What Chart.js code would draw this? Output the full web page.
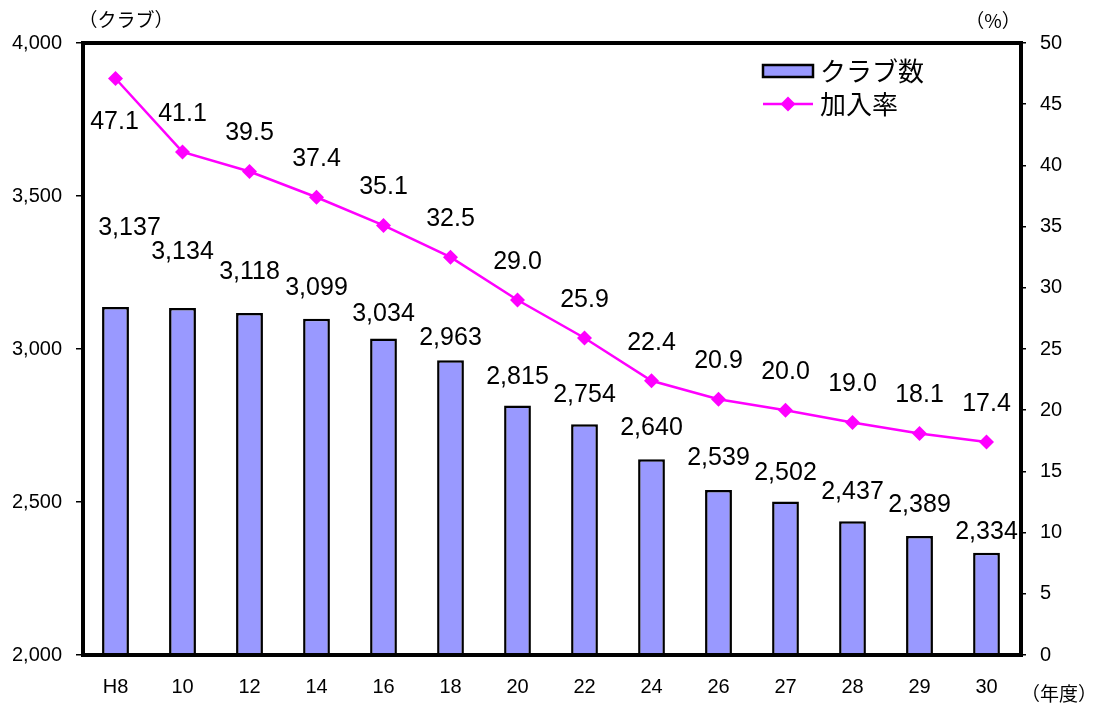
<!DOCTYPE html>
<html>
<head>
<meta charset="utf-8">
<script src="https://cdn.jsdelivr.net/npm/chart.js@4.4.1/dist/chart.umd.min.js"></script>
<style>
  html, body { margin: 0; padding: 0; background: #fff; }
  #wrap { width: 1097px; height: 710px; }
</style>
</head>
<body>
<div id="wrap"><canvas id="chart"></canvas></div>
<script>
// data
const years = ['H8', '10', '12', '14', '16', '18', '20', '22', '24', '26', '27', '28', '29', '30'];
const clubCounts = [3137, 3134, 3118, 3099, 3034, 2963, 2815, 2754, 2640, 2539, 2502, 2437, 2389, 2334];
const joinRates = [47.1, 41.1, 39.5, 37.4, 35.1, 32.5, 29.0, 25.9, 22.4, 20.9, 20.0, 19.0, 18.1, 17.4];
const leftTicks = [2000, 2500, 3000, 3500, 4000];
const rightTicks = [0, 5, 10, 15, 20, 25, 30, 35, 40, 45, 50];

// label placement (px above the bar top), the first ones are pushed up like in the original
const barLabelLift = [79, 56, 41, 31, 24, 22, 29, 29, 31, 32, 28, 29, 31, 21];

const BAR_COLOR = '#9999FF';
const LINE_COLOR = '#FF00FF';
const NUM_FONT = '"Liberation Sans", Arial, sans-serif';
const JP_FONT = '"Noto Sans CJK JP", sans-serif';

function formatNumber(num) {
  return new Intl.NumberFormat('en-US').format(num);
}

/**
 * Frame, value labels, legend and axis titles
 */
const decorPlugin = {
  id: 'decor',
  afterDatasetsDraw(chart) {
    const ctx = chart.ctx;
    const area = chart.chartArea;
    ctx.save();

    // thick frame round the plot area
    ctx.strokeStyle = '#000';
    ctx.lineWidth = 4;
    ctx.strokeRect(area.left + 1, area.top, area.right - area.left, area.bottom - area.top);

    // value labels
    ctx.fillStyle = '#000';
    ctx.font = '25px ' + NUM_FONT;
    ctx.textAlign = 'center';
    ctx.textBaseline = 'middle';
    chart.getDatasetMeta(1).data.forEach((bar, i) => {
      const dx = i === 0 ? 14 : 0;
      ctx.fillText(formatNumber(clubCounts[i]), bar.x + dx, bar.y - barLabelLift[i]);
    });
    chart.getDatasetMeta(0).data.forEach((pt, i) => {
      const dy = i === 0 ? 44 : -38;
      ctx.fillText(joinRates[i].toFixed(1), pt.x - (i === 0 ? 1 : 0), pt.y + dy);
    });

    // legend
    ctx.fillStyle = BAR_COLOR;
    ctx.fillRect(763, 65, 50, 12);
    ctx.lineWidth = 2.5;
    ctx.strokeStyle = '#000';
    ctx.strokeRect(763, 65, 50, 12);

    ctx.strokeStyle = LINE_COLOR;
    ctx.lineWidth = 2.5;
    ctx.beginPath();
    ctx.moveTo(763, 104);
    ctx.lineTo(813, 104);
    ctx.stroke();
    ctx.fillStyle = LINE_COLOR;
    ctx.beginPath();
    ctx.moveTo(788, 96.5);
    ctx.lineTo(795.5, 104);
    ctx.lineTo(788, 111.5);
    ctx.lineTo(780.5, 104);
    ctx.closePath();
    ctx.fill();

    ctx.fillStyle = '#000';
    ctx.font = '26px ' + JP_FONT;
    ctx.textAlign = 'left';
    ctx.fillText('クラブ数', 820, 71);
    ctx.fillText('加入率', 820, 104);

    // axis titles
    ctx.font = '19px ' + JP_FONT;
    ctx.textAlign = 'center';
    ctx.fillText('（クラブ）', 126, 20);
    ctx.fillText('（%）', 993, 21);
    ctx.textAlign = 'right';
    ctx.fillText('（年度）', 1097, 694);

    ctx.restore();
  },
};

const ctx = document.getElementById('chart');

new Chart(ctx, {
  data: {
    labels: years,
    datasets: [
      {
        type: 'line',
        label: '加入率',
        data: joinRates,
        yAxisID: 'y1',
        order: 0,
        borderColor: LINE_COLOR,
        borderWidth: 2.5,
        backgroundColor: LINE_COLOR,
        pointStyle: 'rectRot',
        pointRadius: 7.5,
        pointBorderWidth: 0,
        pointBackgroundColor: LINE_COLOR,
        tension: 0,
      },
      {
        type: 'bar',
        label: 'クラブ数',
        data: clubCounts,
        yAxisID: 'y',
        order: 1,
        backgroundColor: BAR_COLOR,
        borderColor: '#000',
        borderWidth: 2.5,
        borderSkipped: false,
        categoryPercentage: 1,
        barPercentage: 0.4,
      },
    ],
  },
  options: {
    responsive: true,
    maintainAspectRatio: false,
    animation: false,
    events: [],
    layout: { padding: { top: 43, left: 0, right: 0, bottom: 0 } },
    plugins: {
      legend: { display: false },
      tooltip: { enabled: false },
      title: { display: false },
    },
    scales: {
      x: {
        grid: { display: false },
        border: { display: false },
        ticks: {
          color: '#000',
          font: { family: NUM_FONT, size: 20 },
          padding: 12,
          maxRotation: 0,
          autoSkip: false,
        },
        afterFit: (scale) => { scale.height = 55; },
      },
      y: {
        position: 'left',
        min: 2000,
        max: 4000,
        afterBuildTicks: (scale) => { scale.ticks = leftTicks.map(v => ({ value: v })); },
        grid: { display: true, drawOnChartArea: false, drawTicks: true, tickLength: 6, color: '#000', lineWidth: 1.5 },
        border: { display: false },
        ticks: {
          color: '#000',
          font: { family: NUM_FONT, size: 20 },
          padding: 14,
          callback: (value) => formatNumber(value),
        },
        afterFit: (scale) => { scale.width = 82; },
      },
      y1: {
        position: 'right',
        min: 0,
        max: 50,
        afterBuildTicks: (scale) => { scale.ticks = rightTicks.map(v => ({ value: v })); },
        grid: { display: true, drawOnChartArea: false, drawTicks: true, tickLength: 6, color: '#000', lineWidth: 1.5 },
        border: { display: false },
        ticks: {
          color: '#000',
          font: { family: NUM_FONT, size: 20 },
          padding: 14,
        },
        afterFit: (scale) => { scale.width = 77; },
      },
    },
  },
  plugins: [decorPlugin],
});
</script>
</body>
</html>
